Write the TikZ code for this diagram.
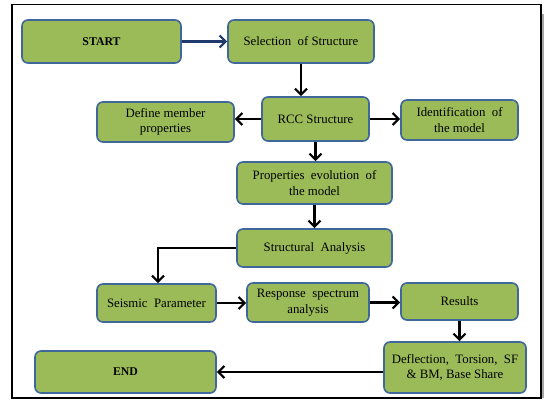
\documentclass[tikz,border=0pt]{standalone}
\usepackage{fontspec}
\setmainfont{Liberation Serif}
\usetikzlibrary{arrows.meta,calc}
\definecolor{boxfill}{HTML}{9BBB59}
\definecolor{boxline}{HTML}{3F679A}
\definecolor{navyarrow}{HTML}{1F3A6E}
\begin{document}
\begin{tikzpicture}[x=1pt,y=-1pt,
  flowbox/.style={draw=boxline, line width=1.6pt, fill=boxfill, rounded corners=6pt,
    align=center, inner sep=1pt, font=\fontsize{12.8}{15.5}\selectfont},
  conn/.style={draw=black, line width=2.2pt, -{Straight Barb[length=6pt,width=12pt,line width=2.2pt]}},
  navyconn/.style={draw=navyarrow, line width=2.2pt, -{Straight Barb[length=6pt,width=12pt,line width=2.2pt]}},
]
\useasboundingbox (0,0) rectangle (553,406);
\fill[white] (0,0) rectangle (553,406);
\draw[black, line width=1.2pt] (12,4.5) rectangle (541,398);
\draw[black!35, line width=1.6pt] (543,14) -- (543,398);

\node[flowbox, minimum width=159pt, minimum height=43pt] (start) at (101.5,41.5) {\fontsize{11.8}{15}\selectfont\textbf{START}};
\node[flowbox, minimum width=146pt, minimum height=43pt] (sel) at (301,41.5) {Selection \ of Structure};
\node[flowbox, minimum width=137pt, minimum height=40pt] (def) at (165.5,122) {Define member\\properties};
\node[flowbox, minimum width=107pt, minimum height=44pt] (rcc) at (315.5,119) {RCC Structure};
\node[flowbox, minimum width=117pt, minimum height=40pt] (ident) at (459.5,120) {Identification \ of\\the model};
\node[flowbox, minimum width=155pt, minimum height=42pt] (prop) at (314.5,183) {Properties \ evolution \ of\\the model};
\node[flowbox, minimum width=155pt, minimum height=38pt] (struct) at (314.5,248) {Structural \ Analysis};
\node[flowbox, minimum width=119pt, minimum height=38pt] (seis) at (156.5,303) {Seismic \ Parameter};
\node[flowbox, minimum width=122pt, minimum height=39pt] (resp) at (308,302.5) {Response \ spectrum\\analysis};
\node[flowbox, minimum width=117pt, minimum height=37pt] (res) at (459.5,301.5) {Results};
\node[flowbox, minimum width=142pt, minimum height=51pt] (defl) at (455,367.5) {Deflection, \ Torsion, \ SF\\\& BM, Base Share};
\node[flowbox, minimum width=181pt, minimum height=42pt] (end) at (125.5,372) {\fontsize{11.8}{15}\selectfont\textbf{END}};

\draw[navyconn] (start.east) -- (sel.west);
\draw[conn] (sel.south) -- (sel.south |- rcc.north);
\draw[conn] (rcc.west) -- (rcc.west -| def.east);
\draw[conn] (rcc.east) -- (rcc.east -| ident.west);
\draw[conn] (rcc.south) -- (rcc.south |- prop.north);
\draw[conn] (prop.south) -- (prop.south |- struct.north);
\draw[conn] (struct.west) -| ($(seis.north)+(1.5,0)$);
\draw[conn] (seis.east) -- (seis.east -| resp.west);
\draw[conn] (resp.east) -- (resp.east -| res.west);
\draw[conn] (res.south) -- (res.south |- defl.north);
\draw[conn] (defl.west |- end.east) -- (end.east);
\end{tikzpicture}
\end{document}
